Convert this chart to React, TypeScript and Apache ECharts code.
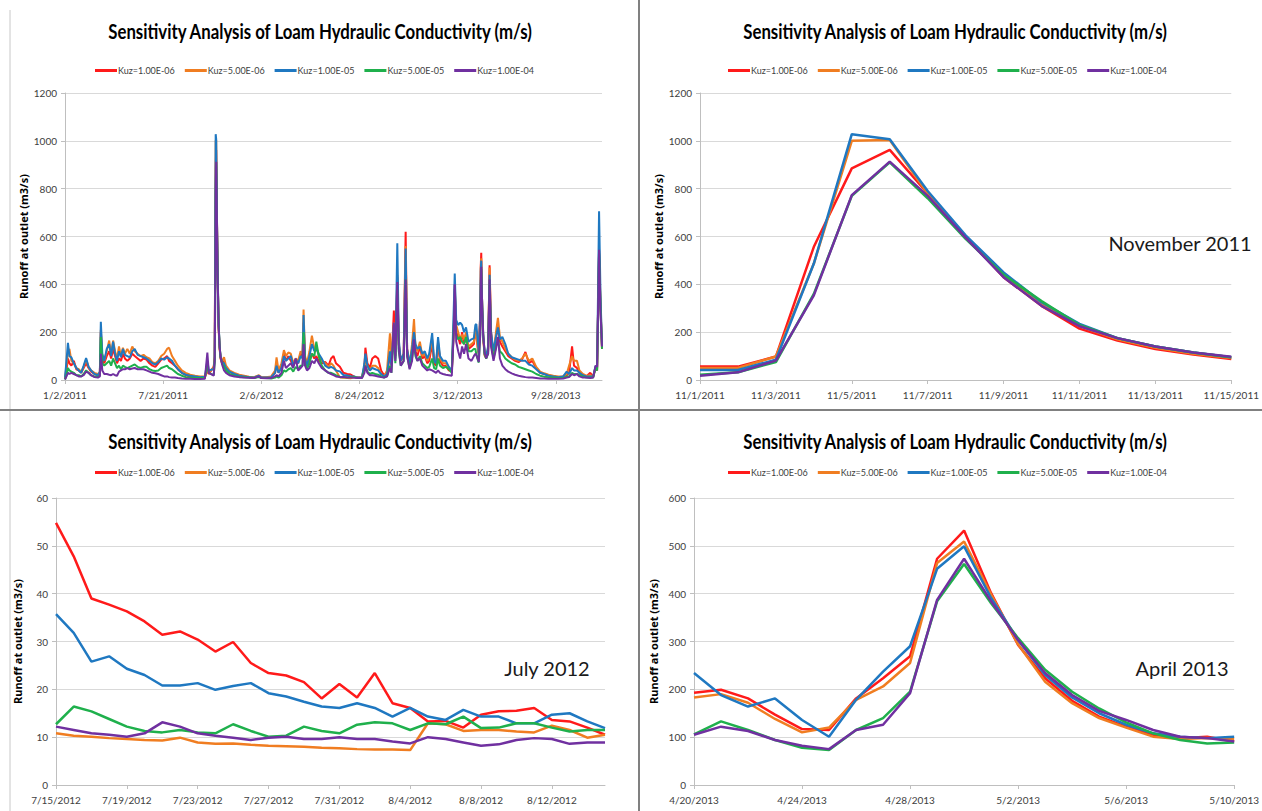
import React, { useEffect, useRef } from "react";
import * as echarts from "echarts";

const seriesNames = ["Kuz=1.00E-06", "Kuz=5.00E-06", "Kuz=1.00E-05", "Kuz=5.00E-05", "Kuz=1.00E-04"];
const colors = ["#ff1a1a", "#f07d21", "#1f78c1", "#1fb04c", "#7030a0"];
const chartTitle = "Sensitivity Analysis of Loam Hydraulic Conductivity (m/s)";
const yName = "Runoff at outlet (m3/s)";

// Panel 1: full record, x = day index since 1/2/2011
const tlTickLabels = ["1/2/2011", "7/21/2011", "2/6/2012", "8/24/2012", "3/12/2013", "9/28/2013"];
const tlDays = [0,3,6,9,13,18,23,28,33,38,43,48,53,60,67,71,73,76,80,85,90,94,98,102,106,110,114,118,122,127,132,137,142,148,154,160,166,172,178,184,190,196,202,208,212,218,224,230,238,246,255,265,275,285,290,293,303,305,306,307,308,309,310,311,313,315,317,320,324,328,335,345,355,365,375,385,395,400,410,420,428,431,435,441,446,450,455,460,465,470,475,480,484,486,489,493,498,503,508,512,517,523,530,537,542,547,552,560,567,575,582,590,591,598,605,610,612,616,621,626,632,638,644,650,656,662,665,670,673,677,680,684,690,694,697,702,707,711,714,718,723,728,733,738,742,748,752,756,760,764,770,776,782,788,792,794,797,801,805,809,813,817,822,828,833,836,838,842,843,846,847,848,849,850,852,855,858,862,865,868,873,878,882,886,891,897,903,910,917,924,931,938,945,952,960,968,976,985,995,1005,1015,1022,1027,1033,1037,1043,1048,1055,1062,1070,1076,1081,1084,1088,1091,1094];
const tlRed = [5,40,90,70,60,80,45,40,30,50,70,50,35,25,20,30,200,90,70,100,120,90,130,100,70,90,80,110,90,80,90,110,100,90,80,90,85,70,60,55,70,85,90,100,80,70,60,45,30,20,15,12,10,12,40,25,56,98,557,885,962,780,600,430,215,130,88,70,80,50,35,25,20,15,12,10,15,10,10,12,30,70,30,60,110,80,100,80,60,80,70,110,100,240,90,60,80,110,90,100,80,70,75,60,90,100,70,55,30,25,23,13,10.5,10,12,60,135,70,50,90,100,90,40,20,30,100,60,290,100,430,150,80,110,620,130,70,120,190,120,100,140,90,100,70,80,150,70,60,150,80,60,60,40,35,200,380,200,180,150,200,150,180,130,140,150,200,193,117,115,269,473,532,401,293,176,105,91,120,480,200,100,180,220,160,140,120,100,90,80,75,85,117,70,80,50,30,25,20,15,12,14,20,30,141,60,50,30,20,15,30,15,50,40,540,300,130];
const tlOrange = [5,60,110,130,80,70,50,45,35,55,85,55,40,30,25,30,210,95,80,120,165,110,165,120,90,140,100,135,110,130,110,140,120,110,100,105,95,90,75,70,80,100,110,130,135,100,80,60,40,30,22,18,15,15,45,30,53,98,487,1000,1003,780,600,440,225,135,92,80,95,60,40,30,22,18,14,12,20,12,12,15,40,95,40,70,125,100,115,110,70,90,80,120,110,295,100,70,120,185,130,140,100,80,70,55,70,60,40,11,9,8,7.5,12,10.5,10,12,50,100,60,40,60,60,50,25,15,40,195,80,240,100,440,150,80,100,560,120,60,150,255,140,120,160,100,110,80,100,170,80,70,160,90,70,70,50,40,230,400,230,200,170,190,170,200,140,150,160,210,183,110,120,255,464,509,398,294,171,101,96,130,470,190,110,200,260,180,160,130,110,95,85,80,90,110,80,90,55,35,28,22,18,15,16,25,60,100,80,80,40,25,18,20,15,55,45,550,320,135];
const tlBlue = [10,80,155,100,95,70,50,40,30,60,92,55,40,25,20,35,243,110,80,130,150,100,160,110,80,120,95,130,105,100,95,120,130,105,100,95,90,80,70,65,75,90,85,95,90,80,60,45,30,22,18,15,12,14,80,40,46,85,487,1028,1007,790,605,450,235,140,95,75,70,50,35,25,18,15,12,10,18,10,10,12,30,60,30,50,100,80,90,100,60,85,70,100,90,272,90,60,100,150,120,130,110,90,60,50,55,50,40,36,21,19,16,15,12,10,11,70,110,60,40,50,45,40,25,15,25,120,60,230,90,572,170,80,110,550,130,65,130,200,150,130,140,110,120,90,110,196,80,70,179,100,80,80,55,40,300,445,250,230,240,230,200,220,160,170,175,230,234,136,101,290,452,499,391,303,183,108,101,140,440,200,120,180,220,170,180,150,110,95,90,85,80,80,65,60,45,30,25,18,15,12,15,35,25,50,40,40,30,20,15,15,15,60,50,705,350,140];
const tlGreen = [2,20,50,40,35,30,20,20,15,25,40,30,20,15,12,20,180,70,60,70,80,60,90,70,50,60,45,60,55,50,55,60,65,55,50,55,55,45,40,38,40,50,55,60,50,45,35,25,18,12,10,8,8,9,60,30,20,75,360,770,910,760,590,440,230,140,95,70,55,40,25,18,14,12,10,8,12,8,8,6,10,15,10,20,40,35,45,50,35,55,45,60,60,200,70,45,70,110,100,160,100,60,40,30,30,25,20,13,11,11,13,13,11.5,8,9,40,60,35,25,30,25,22,15,10,15,60,30,200,70,380,120,60,80,420,100,50,90,150,100,80,100,70,60,50,55,90,50,45,90,60,50,55,45,30,220,290,190,170,180,160,150,180,120,120,130,130,106,78,73,195,384,462,380,307,195,108,89,110,400,150,90,140,170,120,110,90,80,70,65,55,50,45,40,35,25,18,14,12,10,8,8,15,15,30,25,25,20,15,10,10,10,50,40,530,300,130];
const tlPurple = [2,15,30,25,30,25,20,15,15,20,35,30,20,12,10,15,110,40,25,25,22,20,25,20,18,35,40,45,45,50,45,48,50,45,45,45,40,35,30,28,25,20,15,15,12,10,10,8,6,5,5,4,4,5,115,30,18,81,354,773,913,770,595,430,225,140,97,65,40,30,20,15,12,10,9,8,15,8,7,8,15,20,15,30,80,50,60,70,50,90,40,50,60,150,60,40,50,80,70,90,70,50,40,30,25,20,15,12,13,10,10,9,9,8,8,30,60,30,20,20,18,15,12,10,15,50,30,240,80,410,130,60,80,420,100,45,80,170,110,80,90,60,50,40,45,40,35,30,40,30,25,22,20,18,200,400,160,120,90,140,110,150,90,80,100,110,105,82,75,192,387,473,384,303,188,115,91,110,420,140,80,130,180,90,60,45,35,28,22,18,15,12,10,10,8,6,6,5,5,5,6,10,12,25,20,25,15,10,10,8,10,60,55,545,280,140];

// Panel 2: November 2011
const novDates = ["11/1/2011","11/2/2011","11/3/2011","11/4/2011","11/5/2011","11/6/2011","11/7/2011","11/8/2011","11/9/2011","11/10/2011","11/11/2011","11/12/2011","11/13/2011","11/14/2011","11/15/2011"];
const novRed = [56,56,98,557,885,962,780,600,430,310,215,165,130,107,88];
const novOrange = [50,50,98,487,1000,1003,780,600,440,320,225,170,135,110,92];
const novBlue = [42,42,85,487,1028,1007,790,605,450,325,235,175,140,115,95];
const novGreen = [22,32,75,360,770,910,760,590,440,330,230,175,140,115,95];
const novPurple = [18,32,81,354,773,913,770,595,430,310,225,175,140,115,97];

// Panel 3: July 2012
const julDates = ["7/15/2012","7/16/2012","7/17/2012","7/18/2012","7/19/2012","7/20/2012","7/21/2012","7/22/2012","7/23/2012","7/24/2012","7/25/2012","7/26/2012","7/27/2012","7/28/2012","7/29/2012","7/30/2012","7/31/2012","8/1/2012","8/2/2012","8/3/2012","8/4/2012","8/5/2012","8/6/2012","8/7/2012","8/8/2012","8/9/2012","8/10/2012","8/11/2012","8/12/2012","8/13/2012","8/14/2012","8/15/2012"];
const julRed = [54.8,47.8,39,37.7,36.3,34.2,31.4,32.1,30.4,27.9,29.9,25.5,23.4,22.9,21.5,18.1,21.1,18.3,23.4,17.1,16.1,13.3,13.4,12,14.7,15.4,15.5,16.1,13.6,13.3,12,10.5];
const julOrange = [10.8,10.3,10.1,9.8,9.6,9.4,9.3,9.9,8.9,8.6,8.7,8.4,8.2,8.1,8,7.8,7.7,7.5,7.4,7.4,7.3,12.9,12.7,11.3,11.5,11.5,11.2,11,12.4,11.5,9.9,10.5];
const julBlue = [35.7,31.8,25.8,26.9,24.3,23,20.8,20.8,21.3,19.9,20.7,21.3,19.2,18.5,17.4,16.4,16.1,17.1,16.1,14.3,16.1,14.3,13.6,15.7,14.3,14.3,12.9,12.9,14.7,15,13.3,11.9];
const julGreen = [12.7,16.4,15.4,13.8,12.2,11.3,11,11.5,11,10.8,12.7,11.3,10.1,10.3,12.2,11.3,10.8,12.6,13.1,12.9,11.5,12.9,12.7,14.3,11.9,12,12.9,12.9,12,11.2,11.5,11.5];
const julPurple = [12.2,11.5,10.8,10.5,10.1,10.8,13.1,12.2,10.8,10.3,9.9,9.4,9.9,10.1,9.6,9.6,10,9.6,9.6,9.1,8.7,10,9.6,8.9,8.2,8.5,9.4,9.8,9.6,8.6,8.9,8.9];

// Panel 4: April 2013
const aprDates = ["4/20/2013","4/21/2013","4/22/2013","4/23/2013","4/24/2013","4/25/2013","4/26/2013","4/27/2013","4/28/2013","4/29/2013","4/30/2013","5/1/2013","5/2/2013","5/3/2013","5/4/2013","5/5/2013","5/6/2013","5/7/2013","5/8/2013","5/9/2013","5/10/2013"];
const aprRed = [193,199,181,147,117,115,181,223,269,473,532,401,293,223,176,143,122,105,98,101,91];
const aprOrange = [183,190,172,138,110,120,178,206,255,464,509,398,294,216,171,140,120,101,96,98,96];
const aprBlue = [234,188,164,181,136,101,178,237,290,452,499,391,303,230,183,150,126,108,101,98,101];
const aprGreen = [106,133,115,94,78,73,115,140,195,384,462,380,307,241,195,160,131,108,94,87,89];
const aprPurple = [105,122,113,94,82,75,115,126,192,387,473,384,303,234,188,155,136,115,101,98,91];

const monthLabels = ["November 2011", "July 2012", "April 2013"];

const FONT = "Lato, sans-serif";

export default function App() {
  const ref = useRef<HTMLDivElement>(null);
  useEffect(() => {
    if (!ref.current) return;
    const chart = echarts.init(ref.current, null, { renderer: "svg" });

    const grids = [
      { left: 65, top: 93, width: 537, height: 287 },
      { left: 700, top: 93, width: 536, height: 287 },
      { left: 56, top: 498, width: 549, height: 287 },
      { left: 694, top: 498, width: 544, height: 287 },
    ];
    const titleCenters = [[320, 31], [955, 31], [320, 441], [955, 441]];
    const legendLefts = [[95, 66], [728, 66], [95, 468], [728, 468]];

    const axisLabel = { color: "#404040", fontSize: 10, fontFamily: FONT };
    const splitLine = { show: true, lineStyle: { color: "#d9d9d9", width: 1 } };
    const axisLine = { show: true, lineStyle: { color: "#bfbfbf", width: 1 } };

    const yAxes = [
      { min: 0, max: 1200, interval: 200, gap: 36 },
      { min: 0, max: 1200, interval: 200, gap: 36 },
      { min: 0, max: 60, interval: 10, gap: 33 },
      { min: 0, max: 600, interval: 100, gap: 35 },
    ].map((y, i) => ({
      type: "value",
      gridIndex: i,
      min: y.min,
      max: y.max,
      interval: y.interval,
      name: yName,
      nameLocation: "middle",
      nameGap: y.gap,
      nameTextStyle: { fontSize: 11, fontWeight: "bold", color: "#000", fontFamily: "'Noto Sans', sans-serif" },
      axisLabel: { ...axisLabel, formatter: (v: number) => String(v) },
      axisLine,
      axisTick: { show: true, length: 4, lineStyle: { color: "#bfbfbf" } },
      splitLine,
    }));

    const catAxis = (i: number, data: string[], interval: number) => ({
      type: "category",
      gridIndex: i,
      data,
      boundaryGap: false,
      axisLabel: { ...axisLabel, interval, margin: 10 },
      axisTick: { show: true, interval, length: 4, lineStyle: { color: "#bfbfbf" } },
      axisLine,
      splitLine: { show: false },
    });

    const xAxes = [
      {
        type: "value",
        gridIndex: 0,
        min: 0,
        max: 1094,
        interval: 200,
        axisLabel: {
          ...axisLabel,
          margin: 10,
          showMaxLabel: false,
          formatter: (v: number) => tlTickLabels[Math.round(v / 200)] ?? "",
        },
        axisTick: { show: true, length: 4, lineStyle: { color: "#bfbfbf" } },
        axisLine,
        splitLine: { show: false },
      },
      catAxis(1, novDates, 1),
      catAxis(2, julDates, 3),
      catAxis(3, aprDates, 3),
    ];

    const panels = [
      [tlRed, tlOrange, tlBlue, tlGreen, tlPurple],
      [novRed, novOrange, novBlue, novGreen, novPurple],
      [julRed, julOrange, julBlue, julGreen, julPurple],
      [aprRed, aprOrange, aprBlue, aprGreen, aprPurple],
    ];

    const series: any[] = [];
    panels.forEach((arrs, p) => {
      arrs.forEach((vals, s) => {
        series.push({
          type: "line",
          name: seriesNames[s],
          xAxisIndex: p,
          yAxisIndex: p,
          data: p === 0 ? vals.map((v, k) => [tlDays[k], v]) : vals,
          showSymbol: false,
          symbol: "none",
          lineStyle: { color: colors[s], width: p === 0 ? 2 : 2.5 },
          itemStyle: { color: colors[s] },
          z: 2 + s,
        });
      });
    });

    const legends = legendLefts.map(([l, t]) => ({
      left: l,
      top: t,
      width: 520,
      padding: 0,
      data: seriesNames,
      icon: "rect",
      itemWidth: 22,
      itemHeight: 3,
      itemGap: 10,
      selectedMode: false,
      textStyle: { fontSize: 9, color: "#404040", fontFamily: FONT, padding: [0, 0, 0, -4] },
    }));

    const graphics: any[] = [
      { type: "line", shape: { x1: 10, y1: 10, x2: 10, y2: 811 }, style: { stroke: "#c8c8c8", lineWidth: 1 } },
      { type: "line", shape: { x1: 639, y1: 0, x2: 639, y2: 811 }, style: { stroke: "#808080", lineWidth: 2 } },
      { type: "line", shape: { x1: 0, y1: 410, x2: 1262, y2: 410 }, style: { stroke: "#808080", lineWidth: 2 } },
    ];
    titleCenters.forEach(([x, y]) => {
      graphics.push({
        type: "text",
        x,
        y,
        scaleX: 0.84,
        style: { text: chartTitle, fill: "#000", font: `bold 20px ${FONT}`, textAlign: "center", textVerticalAlign: "middle" },
      });
    });
    const monthPos = [[1180, 243], [547, 668], [1182, 668]];
    monthLabels.forEach((m, i) => {
      graphics.push({
        type: "text",
        x: monthPos[i][0],
        y: monthPos[i][1],
        style: { text: m, fill: "#1a1a1a", font: `20px ${FONT}`, textAlign: "center", textVerticalAlign: "middle" },
      });
    });

    chart.setOption({
      animation: false,
      backgroundColor: "#ffffff",
      grid: grids,
      legend: legends,
      xAxis: xAxes,
      yAxis: yAxes,
      series,
      graphic: graphics,
    });
    return () => chart.dispose();
  }, []);
  return <div ref={ref} style={{ position: "fixed", left: 0, top: 0, width: 1262, height: 811, background: "#fff" }} />;
}
